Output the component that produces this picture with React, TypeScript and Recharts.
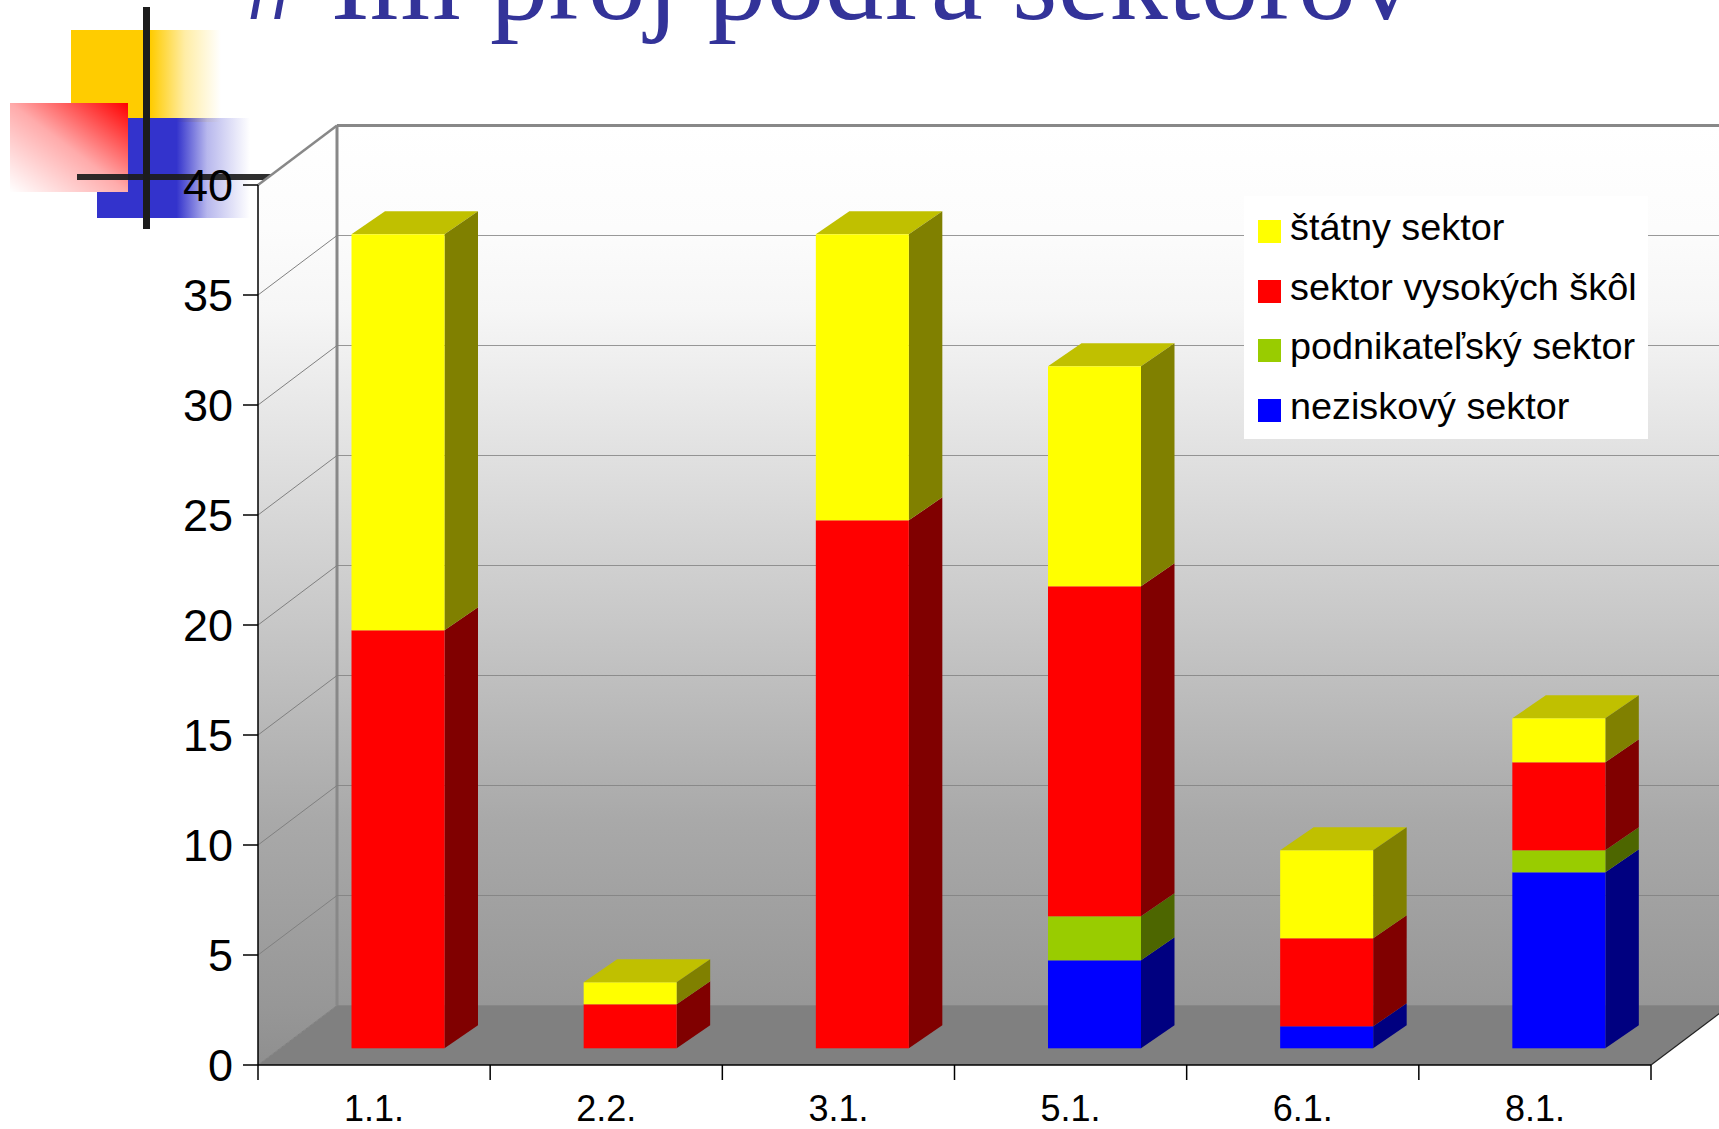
import React from "react";
import { BarChart, Bar, XAxis, YAxis, CartesianGrid, Legend } from "recharts";

const categories = ["1.1.", "2.2.", "3.1.", "5.1.", "6.1.", "8.1."];
const neziskovy = [0, 0, 0, 4, 1, 8];
const podnikatelsky = [0, 0, 0, 2, 0, 1];
const vysokeSkoly = [19, 2, 24, 15, 4, 4];
const statny = [18, 1, 13, 10, 4, 2];
const yTicks = [0, 5, 10, 15, 20, 25, 30, 35, 40];
const legendOrder = ["štátny sektor", "sektor vysokých škôl", "podnikateľský sektor", "neziskový sektor"];

const data = categories.map((name, i) => ({
    name,
    neziskovy: neziskovy[i],
    podnikatelsky: podnikatelsky[i],
    vysokeSkoly: vysokeSkoly[i],
    statny: statny[i],
}));

const WIDTH = 1719;
const HEIGHT = 1129;
const LEFT = 258;
const RIGHT = 1651;
const TOP = 185;
const BOTTOM = 1065;
// depth of the chart box
const DX = 79;
const DY = 59.5;
const BAND = (RIGHT - LEFT) / categories.length;
const FONT = '"Liberation Sans", Arial, sans-serif';

const Bar3D = (props: any) => {
    const { x, y, width, height, fill, side, top } = props;
    if (!height) return null;
    const fx = x + 23.5;
    const fy = y - 16.7;
    const dx = 33.5;
    const dy = 23;
    return (
        <g>
            {top && (
                <polygon
                    points={`${fx},${fy} ${fx + dx},${fy - dy} ${fx + width + dx},${fy - dy} ${fx + width},${fy}`}
                    fill={top}
                />
            )}
            <polygon
                points={`${fx + width},${fy} ${fx + width + dx},${fy - dy} ${fx + width + dx},${fy + height - dy} ${fx + width},${fy + height}`}
                fill={side}
            />
            <rect x={fx} y={fy} width={width} height={height} fill={fill} />
        </g>
    );
};

const GridLine = (props: any) => {
    const { x1, y1, index } = props;
    if (y1 <= TOP + 1) return <g key={index} />;
    return (
        <g key={index}>
            <line x1={x1} y1={y1} x2={x1 + DX} y2={y1 - DY} stroke="#808080" strokeWidth={1} />
            <line x1={x1 + DX} y1={y1 - DY} x2={WIDTH} y2={y1 - DY} stroke="#808080" strokeWidth={1} strokeOpacity={0.8} />
        </g>
    );
};

// the tick marks of this axis sit between the categories, not under them
const CategoryTick = (props: any) => {
    const { x, payload, index } = props;
    return (
        <g>
            <line x1={x - BAND / 2} y1={BOTTOM} x2={x - BAND / 2} y2={BOTTOM + 15} stroke="#000" strokeWidth={1.5} />
            {index === categories.length - 1 && (
                <line x1={x + BAND / 2} y1={BOTTOM} x2={x + BAND / 2} y2={BOTTOM + 15} stroke="#000" strokeWidth={1.5} />
            )}
            <text x={x} y={BOTTOM + 56} textAnchor="middle" fontSize={36} fontFamily={FONT} fill="#000">
                {payload.value}
            </text>
        </g>
    );
};

const LegendBox = ({ payload }: any) => {
    const items = legendOrder.map((n) => (payload || []).find((p: any) => p.value === n)).filter(Boolean);
    return (
        <div style={{ width: 404, height: 243, background: "#fff", position: "relative", fontFamily: FONT, fontSize: 37.8, color: "#000" }}>
            {items.map((p: any, i: number) => (
                <div key={p.value} style={{ position: "absolute", left: 14, top: 10 + i * 59.7, height: 50, whiteSpace: "nowrap", lineHeight: "50px" }}>
                    <span style={{ position: "absolute", left: 0, top: 14, width: 23, height: 23, background: p.color }} />
                    <span style={{ marginLeft: 32, position: "relative", top: -4 }}>{p.value}</span>
                </div>
            ))}
        </div>
    );
};

// logo, title and the walls of the chart box sit behind the chart
const Backdrop = () => (
    <svg width={WIDTH} height={HEIGHT} style={{ position: "absolute", left: 0, top: 0 }}>
        <defs>
            <linearGradient id="wall" gradientUnits="userSpaceOnUse" x1={0} y1={TOP - DY} x2={0} y2={BOTTOM}>
                <stop offset="0" stopColor="#ffffff" />
                <stop offset="0.11" stopColor="#fcfcfc" />
                <stop offset="0.197" stopColor="#f6f6f6" />
                <stop offset="0.334" stopColor="#e3e3e3" />
                <stop offset="0.526" stopColor="#c8c8c8" />
                <stop offset="0.739" stopColor="#a9a9a9" />
                <stop offset="0.936" stopColor="#979797" />
                <stop offset="1" stopColor="#8f8f8f" />
            </linearGradient>
            <linearGradient id="fadeYellow" x1="0" y1="0" x2="1" y2="0">
                <stop offset="0.53" stopColor="#ffcc00" />
                <stop offset="0.76" stopColor="#ffcc00" stopOpacity={0.35} />
                <stop offset="1" stopColor="#ffcc00" stopOpacity={0} />
            </linearGradient>
            <linearGradient id="fadeBlue" x1="0" y1="0" x2="1" y2="0">
                <stop offset="0.52" stopColor="#3333cc" />
                <stop offset="0.72" stopColor="#3333cc" stopOpacity={0.35} />
                <stop offset="1" stopColor="#3333cc" stopOpacity={0} />
            </linearGradient>
            <linearGradient id="fadeRed" x1="1" y1="0" x2="0" y2="1">
                <stop offset="0" stopColor="#ff0000" />
                <stop offset="0.5" stopColor="#ff0000" stopOpacity={0.33} />
                <stop offset="1" stopColor="#ff0000" stopOpacity={0} />
            </linearGradient>
        </defs>
        <rect x={71} y={30} width={150} height={92} fill="url(#fadeYellow)" />
        <rect x={97} y={118} width={153} height={100} fill="url(#fadeBlue)" />
        <rect x={10} y={103} width={118} height={89} fill="#fff" />
        <rect x={10} y={103} width={118} height={89} fill="url(#fadeRed)" />
        <rect x={143} y={7} width={7} height={222} fill="#1c1c1c" />
        <rect x={77} y={174} width={195} height={6} fill="#1c1c1c" fillOpacity={0.92} />
        <text x={243} y={19} fontFamily='"Liberation Serif", serif' fontSize={117} fill="#333399">
            # Im proj podľa sektorov
        </text>
        <polygon points={`${LEFT},${TOP} ${LEFT + DX},${TOP - DY} ${WIDTH},${TOP - DY} ${WIDTH},${BOTTOM - DY} ${LEFT + DX},${BOTTOM - DY} ${LEFT},${BOTTOM}`} fill="url(#wall)" />
        <polygon points={`${LEFT},${BOTTOM} ${LEFT + DX},${BOTTOM - DY} ${WIDTH},${BOTTOM - DY} ${RIGHT + DX},${BOTTOM - DY} ${RIGHT},${BOTTOM}`} fill="#808080" />
        <line x1={LEFT + DX} y1={TOP - DY} x2={WIDTH} y2={TOP - DY} stroke="#888" strokeWidth={3} />
        <line x1={LEFT + DX} y1={TOP - DY} x2={LEFT + DX} y2={BOTTOM - DY} stroke="#888" strokeWidth={3} />
        <line x1={LEFT} y1={TOP} x2={LEFT + DX} y2={TOP - DY} stroke="#888" strokeWidth={2.5} />
        <line x1={RIGHT} y1={BOTTOM} x2={RIGHT + DX} y2={BOTTOM - DY} stroke="#222" strokeWidth={1.2} />
    </svg>
);

const App = () => (
    <div style={{ position: "absolute", left: 0, top: 0, width: WIDTH, height: HEIGHT, overflow: "hidden", background: "#fff" }}>
        <Backdrop />
        <div style={{ position: "absolute", left: 0, top: 0 }}>
            <BarChart
                width={WIDTH}
                height={HEIGHT}
                data={data}
                barSize={93}
                margin={{ top: TOP, right: WIDTH - RIGHT, bottom: 0, left: 0 }}
            >
                <CartesianGrid vertical={false} horizontal={GridLine as any} />
                <XAxis
                    dataKey="name"
                    height={HEIGHT - BOTTOM}
                    interval={0}
                    tickLine={false}
                    axisLine={{ stroke: "#000", strokeWidth: 1.5 }}
                    tick={<CategoryTick />}
                />
                <YAxis
                    domain={[0, 40]}
                    ticks={yTicks}
                    width={LEFT}
                    tickSize={15}
                    tickMargin={10}
                    axisLine={{ stroke: "#000", strokeWidth: 1.5 }}
                    tickLine={{ stroke: "#000", strokeWidth: 1.5 }}
                    tick={{ fill: "#000", fontSize: 45, fontFamily: FONT }}
                />
                <Legend
                    layout="horizontal"
                    align="center"
                    verticalAlign="middle"
                    content={<LegendBox />}
                    wrapperStyle={{ position: "absolute", left: 1244, top: 196, width: 404, height: 243 }}
                />
                <Bar dataKey="neziskovy" name="neziskový sektor" stackId="a" fill="#0000ff" isAnimationActive={false} shape={<Bar3D side="#000080" />} />
                <Bar dataKey="podnikatelsky" name="podnikateľský sektor" stackId="a" fill="#99cc00" isAnimationActive={false} shape={<Bar3D side="#4d6600" />} />
                <Bar dataKey="vysokeSkoly" name="sektor vysokých škôl" stackId="a" fill="#ff0000" isAnimationActive={false} shape={<Bar3D side="#800000" />} />
                <Bar dataKey="statny" name="štátny sektor" stackId="a" fill="#ffff00" isAnimationActive={false} shape={<Bar3D side="#808000" top="#c0c000" />} />
            </BarChart>
        </div>
    </div>
);

export default App;
